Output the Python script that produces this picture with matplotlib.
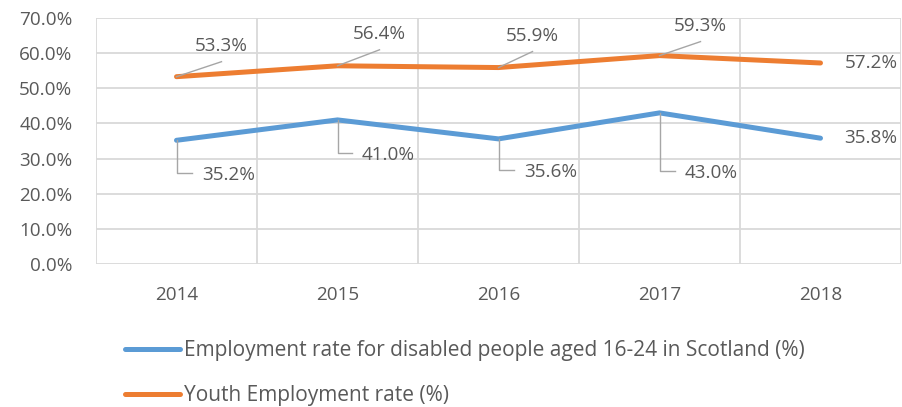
import matplotlib
matplotlib.use("Agg")
import matplotlib.pyplot as plt
from matplotlib.lines import Line2D
import numpy as np

# data
years = ["2014", "2015", "2016", "2017", "2018"]
disabled_rate = [35.2, 41.0, 35.6, 43.0, 35.8]
youth_rate = [53.3, 56.4, 55.9, 59.3, 57.2]
disabled_name = "Employment rate for disabled people aged 16-24 in Scotland (%)"
youth_name = "Youth Employment rate (%)"

# label offsets in pixels (text centre relative to point)
youth_offsets = [(45, 31), (42, 32), (34, 32), (41, 30), None]
disabled_offsets = [(52, -35), (51, -35), (52, -33), (52, -60), None]

BLUE = "#5B9BD5"
ORANGE = "#ED7D31"
GRID = "#D9D9D9"
TXT = "#595959"
LEAD = "#A6A6A6"

plt.rcParams['font.family'] = ['Open Sans', 'DejaVu Sans']
fs = 13.6

fig = plt.figure(figsize=(9.02, 4.07), dpi=100)
ax = fig.add_axes([96/902, 1-264/407, 805/902, 246/407])

x = np.arange(len(years))
ax.plot(x, disabled_rate, color=BLUE, lw=3.6, solid_capstyle='round',
        solid_joinstyle='miter', label=disabled_name, zorder=3)
ax.plot(x, youth_rate, color=ORANGE, lw=3.6, solid_capstyle='round',
        solid_joinstyle='miter', label=youth_name, zorder=3)

ax.set_xlim(-0.5, 4.5)
ax.set_ylim(0, 70)
ax.set_yticks(np.arange(0, 71, 10))
ax.set_yticklabels([f"{v:.1f}%" for v in np.arange(0, 71, 10)])
ax.set_xticks(x)
ax.set_xticklabels(years)
ax.set_xticks(np.arange(-0.5, 4.6, 1), minor=True)
ax.tick_params(which='both', length=0, colors=TXT, labelsize=fs)
ax.tick_params(axis='y', pad=17)
ax.tick_params(axis='x', pad=16)
ax.grid(axis='y', which='major', color=GRID, lw=1.3)
ax.grid(axis='x', which='minor', color=GRID, lw=1.3)
for s in ax.spines.values():
    s.set_visible(False)
ax.set_axisbelow(True)

# data labels with leader lines (display pixels)
for i in range(len(years)):
    px, py = ax.transData.transform((x[i], youth_rate[i]))
    off = youth_offsets[i]
    if off is None:
        ax.annotate(f"{youth_rate[i]:.1f}%", (x[i], youth_rate[i]), xytext=(24, 0),
                    textcoords='offset pixels', ha='left', va='center',
                    color=TXT, fontsize=fs)
    else:
        ax.annotate(f"{youth_rate[i]:.1f}%", (x[i], youth_rate[i]), xytext=off,
                    textcoords='offset pixels', ha='center', va='center',
                    color=TXT, fontsize=fs)
        fig.add_artist(Line2D([px, px + off[0]], [py, py + off[1] - 16],
                              transform=None, color=LEAD, lw=1.0, zorder=4))

    px, py = ax.transData.transform((x[i], disabled_rate[i]))
    off = disabled_offsets[i]
    if off is None:
        ax.annotate(f"{disabled_rate[i]:.1f}%", (x[i], disabled_rate[i]), xytext=(24, 0),
                    textcoords='offset pixels', ha='left', va='center',
                    color=TXT, fontsize=fs)
    else:
        ax.annotate(f"{disabled_rate[i]:.1f}%", (x[i], disabled_rate[i]), xytext=off,
                    textcoords='offset pixels', ha='center', va='center',
                    color=TXT, fontsize=fs)
        fig.add_artist(Line2D([px, px, px + off[0] - 37],
                              [py, py + off[1] + 2, py + off[1] + 2],
                              transform=None, color=LEAD, lw=1.0, zorder=4))

leg = fig.legend(loc='upper left', bbox_to_anchor=(125/902, 1-340/407), frameon=False,
                 fontsize=15, handlelength=2.65, handletextpad=0.18, labelspacing=1.15,
                 labelcolor=TXT, borderaxespad=0, borderpad=0)

fig.savefig("out.png", dpi=100)
